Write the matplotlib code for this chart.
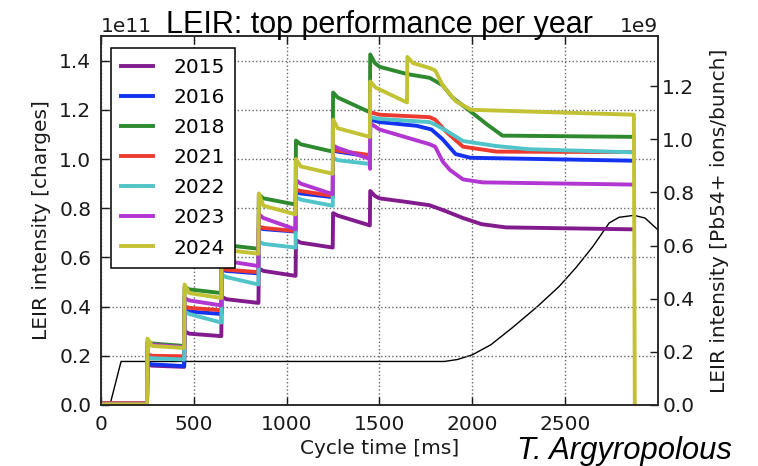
import matplotlib
matplotlib.use("Agg")
import matplotlib.pyplot as plt
from matplotlib import font_manager
import numpy as np

# intensity traces, in units of 1e11 charges, time in ms
years = ["2015", "2016", "2018", "2021", "2022", "2023", "2024"]
colors = ["#821c8e", "#1433f0", "#2f8a2f", "#ec3a30", "#50c4c8", "#b236d2", "#c2c234"]

# injection plateaus (7 injections every 200 ms), shared time grid
t_fill = [0, 248, 250, 275, 448, 450, 475, 648, 650, 675, 848, 850, 875, 1048,
          1050, 1075, 1248, 1250, 1275, 1448]

fill_2015 = [0.005, 0.005, 0.165, 0.16, 0.155, 0.30, 0.29, 0.28, 0.44, 0.43, 0.415,
             0.555, 0.545, 0.525, 0.67, 0.66, 0.64, 0.78, 0.77, 0.73]
fill_2016 = [0.005, 0.005, 0.17, 0.165, 0.158, 0.385, 0.38, 0.37, 0.55, 0.545, 0.535,
             0.72, 0.715, 0.705, 0.865, 0.86, 0.845, 1.035, 1.03, 1.01]
fill_2018 = [0.008, 0.008, 0.255, 0.25, 0.24, 0.48, 0.47, 0.455, 0.665, 0.65, 0.635,
             0.855, 0.84, 0.815, 1.075, 1.06, 1.03, 1.27, 1.25, 1.19]
fill_2021 = [0.008, 0.008, 0.205, 0.20, 0.198, 0.40, 0.395, 0.385, 0.555, 0.55, 0.54,
             0.725, 0.72, 0.707, 0.875, 0.87, 0.85, 1.04, 1.034, 1.016]
fill_2022 = [0.005, 0.005, 0.195, 0.19, 0.185, 0.38, 0.37, 0.335, 0.53, 0.52, 0.49,
             0.665, 0.655, 0.64, 0.845, 0.835, 0.81, 1.005, 0.995, 0.98]
fill_2023 = [0.005, 0.005, 0.25, 0.245, 0.235, 0.435, 0.425, 0.405, 0.60, 0.585, 0.565,
             0.775, 0.76, 0.714, 0.915, 0.90, 0.857, 1.055, 1.045, 1.0]
fill_2024 = [0.003, 0.003, 0.27, 0.24, 0.232, 0.49, 0.455, 0.435, 0.67, 0.63, 0.615,
             0.86, 0.81, 0.775, 1.0, 0.97, 0.94, 1.16, 1.125, 1.09]

# last injection, capture and flat top
tail_t_2015 = [1450, 1475, 1500, 1650, 1770, 1850, 1950, 2050, 2180, 2870]
tail_v_2015 = [0.87, 0.85, 0.84, 0.825, 0.812, 0.79, 0.76, 0.735, 0.722, 0.714]
tail_t_2016 = [1450, 1500, 1700, 1780, 1840, 1910, 1990, 2870]
tail_v_2016 = [1.16, 1.15, 1.135, 1.12, 1.08, 1.02, 1.005, 0.993]
tail_t_2018 = [1450, 1475, 1500, 1650, 1770, 1840, 1893, 1984, 2080, 2162, 2870]
tail_v_2018 = [1.425, 1.39, 1.375, 1.345, 1.33, 1.30, 1.25, 1.197, 1.14, 1.095, 1.09]
tail_t_2021 = [1450, 1500, 1770, 1800, 1860, 1950, 2130, 2870]
tail_v_2021 = [1.19, 1.18, 1.17, 1.16, 1.11, 1.05, 1.03, 1.028]
tail_t_2022 = [1450, 1500, 1770, 1800, 1860, 1950, 2126, 2300, 2870]
tail_v_2022 = [1.17, 1.163, 1.15, 1.14, 1.115, 1.073, 1.053, 1.04, 1.027]
tail_t_2023 = [1449, 1450, 1500, 1770, 1800, 1840, 1880, 1950, 2055, 2870]
tail_v_2023 = [0.96, 1.145, 1.12, 1.06, 1.05, 0.99, 0.955, 0.917, 0.905, 0.896]
tail_t_2024 = [1450, 1480, 1648, 1650, 1680, 1770, 1800, 1840, 1911, 1993, 2870, 2875]
tail_v_2024 = [1.315, 1.29, 1.23, 1.415, 1.39, 1.37, 1.36, 1.30, 1.235, 1.20, 1.18, 0.0]

fills = [fill_2015, fill_2016, fill_2018, fill_2021, fill_2022, fill_2023, fill_2024]
tails_t = [tail_t_2015, tail_t_2016, tail_t_2018, tail_t_2021, tail_t_2022, tail_t_2023, tail_t_2024]
tails_v = [tail_v_2015, tail_v_2016, tail_v_2018, tail_v_2021, tail_v_2022, tail_v_2023, tail_v_2024]

# black reference curve (same left scale)
ref_t = [0, 48, 108, 1850, 1920, 2000, 2100, 2215, 2350, 2469, 2560, 2650, 2737, 2790, 2871, 2930, 2998]
ref_v = [0, 0, 0.177, 0.177, 0.185, 0.204, 0.245, 0.314, 0.40, 0.483, 0.56, 0.645, 0.74, 0.763, 0.771, 0.76, 0.713]


def narrow_font():
    # look for a condensed sans face; fall back to plain Liberation Sans
    for name in ["Liberation Sans Narrow", "Noto Sans", "Open Sans"]:
        try:
            path = font_manager.findfont(
                font_manager.FontProperties(family=name, stretch="condensed", style="italic"),
                fallback_to_default=False)
        except Exception:
            continue
        if "narrow" in path.lower() or "condensed" in path.lower():
            return name
    return "Liberation Sans"


plt.rcParams["font.family"] = "DejaVu Sans"
plt.rcParams["font.size"] = 14.5

fig = plt.figure(figsize=(7.58, 4.66), dpi=100)
ax = fig.add_axes([101 / 758, 1 - 405 / 466, 557 / 758, 369 / 466])

ax.plot(np.array(ref_t), np.array(ref_v) * 1e11, color="black", lw=1.0, zorder=1)
for year, col, fill, tt, tv in zip(years, colors, fills, tails_t, tails_v):
    t = np.concatenate([t_fill, tt])
    v = np.concatenate([fill, tv]) * 1e11
    ax.plot(t, v, color=col, lw=2.8, label=year, zorder=2)

ax.set_xlim(0, 3000)
ax.set_ylim(0, 1.5e11)
ax.set_xticks([0, 500, 1000, 1500, 2000, 2500])
ax.set_yticks(np.arange(0, 1.41e11, 0.2e11))
ax.grid(True, linestyle=":", color="0.4", lw=1.0)
ax.tick_params(direction="in", top=True, length=6, width=1, pad=7, colors="0.1")
ax.set_xlabel("Cycle time [ms]", color="0.1", labelpad=4)
ax.set_ylabel("LEIR intensity [charges]", color="0.1", labelpad=6)
for s in ax.spines.values():
    s.set_linewidth(1.1)
    s.set_color("0.15")

ax2 = ax.twinx()
ax2.set_ylim(0, 1.5e11 / 108)
ax2.tick_params(direction="in", length=6, width=1, pad=3, colors="0.1")
ax2.set_ylabel("LEIR intensity [Pb54+ ions/bunch]", color="0.1", labelpad=11)
for s in ax2.spines.values():
    s.set_linewidth(1.1)
    s.set_color("0.15")

leg = ax.legend(loc="upper left", bbox_to_anchor=(10 / 557, 1 - 12 / 369), borderaxespad=0,
                fontsize=14.5, handlelength=1.6, handletextpad=1.0, labelspacing=0.55,
                borderpad=0.5, fancybox=False, framealpha=1)
leg.get_frame().set_edgecolor("black")
leg.get_frame().set_linewidth(1.1)

fig.text(379.5 / 758, 1 - 33 / 466, "LEIR: top performance per year",
         family="Liberation Sans", fontsize=22, ha="center", va="baseline")

fam = narrow_font()
author = fig.text(517 / 758, 1 - 459 / 466, "T. Argyropolous", family=fam,
                  stretch="condensed", style="italic", fontsize=26, ha="left", va="baseline")
# size the signature so that it spans the same width as in the slide
renderer = fig.canvas.get_renderer()
w = author.get_window_extent(renderer).width
author.set_fontsize(26 * 215 / w)

fig.savefig("out.png", dpi=100)
